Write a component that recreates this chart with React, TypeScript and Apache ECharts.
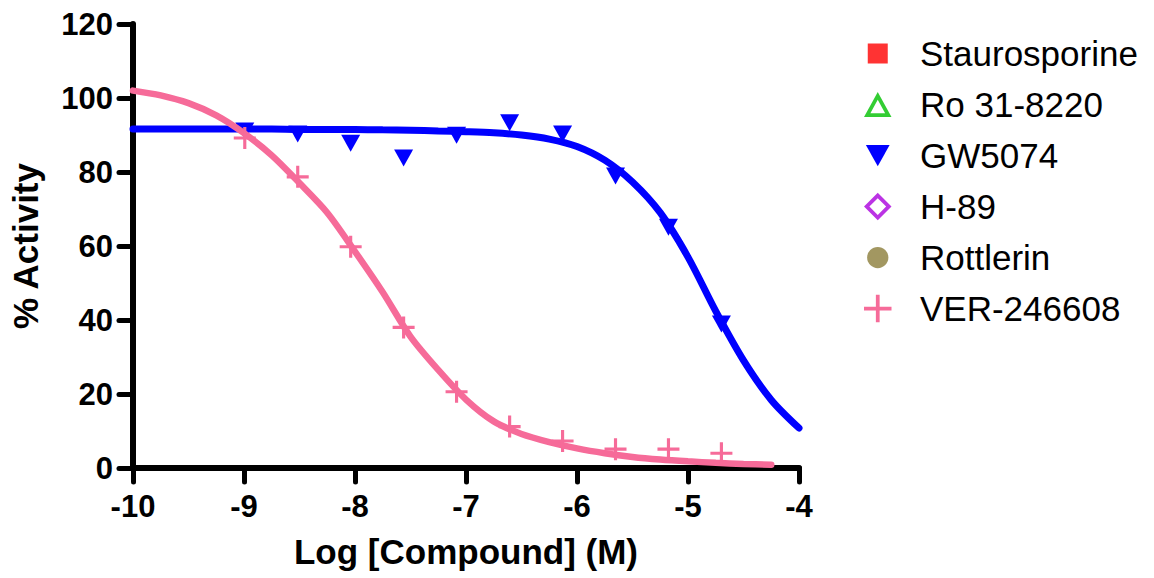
import React, { useEffect, useRef } from "react";
import * as echarts from "echarts";

// Log concentrations (M) of the 3-fold dilution series
const logConc = [-8.993, -8.516, -8.039, -7.562, -7.085, -6.607, -6.13, -5.653, -5.176, -4.699];
// Measured % activity
const gw5074 = [91.1, 90.3, 87.8, 83.8, 89.9, 93.3, 90.3, 78.9, 65.1, 38.9];
const ver246608 = [89.2, 78.7, 59.8, 38.0, 20.6, 11.2, 7.3, 5.1, 5.1, 4.0];

// Fitted curves
const gwFitX = [-10, -9.75, -9.5, -9.25, -9, -8.75, -8.5, -8.25, -8, -7.75, -7.5, -7.25, -7, -6.75, -6.5, -6.25, -6, -5.75, -5.5, -5.25, -5, -4.75, -4.5, -4.25, -4];
const gwFitY = [91.6, 91.6, 91.6, 91.6, 91.6, 91.6, 91.5, 91.5, 91.5, 91.4, 91.3, 91.1, 90.9, 90.6, 90.0, 88.9, 86.9, 83.2, 77.3, 69.0, 57.0, 42.4, 29.1, 18.4, 10.8];
const verFitX = [-10, -9.75, -9.5, -9.25, -9, -8.75, -8.5, -8.25, -8, -7.75, -7.5, -7.25, -7, -6.75, -6.5, -6.25, -6, -5.75, -5.5, -5.25, -5, -4.75, -4.5, -4.25];
const verFitY = [102, 100.7, 98.6, 95.3, 90.5, 84.5, 77, 69, 58.5, 47.5, 35.5, 26.5, 18.5, 12.6, 9.2, 7.0, 5.3, 4.0, 3.0, 2.3, 1.8, 1.4, 1.1, 0.9];

const compounds = ["Staurosporine", "Ro 31-8220", "GW5074", "H-89", "Rottlerin", "VER-246608"];
const xTicks = { min: -10, max: -4, interval: 1 };
const yTicks = { min: 0, max: 120, interval: 20 };

const PLUS = "path://M9,0H12V9H21V12H12V21H9V12H0V9H9Z";
const FONT = "'Liberation Sans', Arial, sans-serif";

// legend icons (22x22 box, shapes drawn inside with margins)
const ICON_SQUARE = "path://M0,0M22,22M3,3H19V19H3Z";
const ICON_TRI_HOLLOW = "path://M0,0M22,22M11,1L22,21H0ZM11,7.2L5.1,18H16.9Z";
const ICON_DOWN_TRI = "path://M0,0M22,22M1.5,2.5H20.5L11,19.5Z";
const ICON_DIAMOND_HOLLOW = "path://M0,0M22,22M11,0L22,11L11,22L0,11ZM11,4.3L4.3,11L11,17.7L17.7,11Z";
const ICON_CIRCLE = "path://M0,0M22,22M2.5,11A8.5,8.5,0,1,1,19.5,11A8.5,8.5,0,1,1,2.5,11Z";
const ICON_PLUS = "path://M0,0M22,22M9.5,0H12.5V9.5H22V12.5H12.5V22H9.5V12.5H0V9.5H9.5Z";

const pair = (xs: number[], ys: number[]) => xs.map((x, i) => [x, ys[i]]);

export default function App() {
  const ref = useRef<HTMLDivElement>(null);
  useEffect(() => {
    if (!ref.current) return;
    const chart = echarts.init(ref.current, undefined, { renderer: "svg" });
    const axisLabel = { color: "#000", fontWeight: "bold" as const, fontSize: 31, fontFamily: FONT };
    chart.setOption({
      animation: false,
      backgroundColor: "#fff",
      grid: { left: 133, right: 355, top: 24, bottom: 110, containLabel: false },
      xAxis: {
        type: "value",
        min: xTicks.min,
        max: xTicks.max,
        interval: xTicks.interval,
        name: "Log [Compound] (M)",
        nameLocation: "middle",
        nameGap: 66,
        nameTextStyle: { color: "#000", fontWeight: "bold", fontSize: 35, fontFamily: FONT },
        axisLine: { onZero: false, lineStyle: { color: "#000", width: 6, cap: "round" } },
        axisTick: { length: 14, lineStyle: { color: "#000", width: 5, cap: "round" } },
        axisLabel: { ...axisLabel, margin: 23 },
        splitLine: { show: false },
      },
      yAxis: {
        type: "value",
        min: yTicks.min,
        max: yTicks.max,
        interval: yTicks.interval,
        name: "% Activity",
        nameLocation: "middle",
        nameRotate: 90,
        nameGap: 90,
        nameTextStyle: { color: "#000", fontWeight: "bold", fontSize: 35, fontFamily: FONT },
        axisLine: { onZero: false, lineStyle: { color: "#000", width: 6, cap: "round" } },
        axisTick: { length: 14, lineStyle: { color: "#000", width: 5, cap: "round" } },
        axisLabel: { ...axisLabel, margin: 20 },
        splitLine: { show: false },
      },
      legend: {
        orient: "vertical",
        left: 864,
        top: 36,
        padding: 0,
        itemGap: 16,
        itemWidth: 27.5,
        itemHeight: 27.5,
        selectedMode: false,
        textStyle: { color: "#000", fontSize: 35, fontFamily: FONT, lineHeight: 35, padding: [0, 0, 0, 23.5] },
        data: [
          { name: compounds[0], icon: ICON_SQUARE, itemStyle: { color: "#ff0000", borderWidth: 0 } },
          { name: compounds[1], icon: ICON_TRI_HOLLOW, itemStyle: { color: "#00c000", borderWidth: 0 } },
          { name: compounds[2], icon: ICON_DOWN_TRI, itemStyle: { color: "#0000ff", borderWidth: 0 } },
          { name: compounds[3], icon: ICON_DIAMOND_HOLLOW, itemStyle: { color: "#aa00dd", borderWidth: 0 } },
          { name: compounds[4], icon: ICON_CIRCLE, itemStyle: { color: "#8b7d3a", borderWidth: 0 } },
          { name: compounds[5], icon: ICON_PLUS, itemStyle: { color: "#f66b99", borderWidth: 0 } },
        ],
      },
      series: [
        { name: compounds[0], type: "scatter", data: [], itemStyle: { color: "#ff0000" } },
        { name: compounds[1], type: "scatter", data: [], itemStyle: { color: "#00c000" } },
        { name: compounds[3], type: "scatter", data: [], itemStyle: { color: "#aa00dd" } },
        { name: compounds[4], type: "scatter", data: [], itemStyle: { color: "#8b7d3a" } },
        {
          name: "GW5074 fit",
          type: "line",
          data: pair(gwFitX, gwFitY),
          smooth: 0.3,
          showSymbol: false,
          lineStyle: { color: "#0000ff", width: 7, cap: "round" },
          z: 2,
        },
        {
          name: compounds[2],
          type: "scatter",
          data: pair(logConc, gw5074),
          symbol: "triangle",
          symbolRotate: 180,
          symbolSize: [19, 17],
          itemStyle: { color: "#0000ff", opacity: 1 },
          z: 3,
        },
        {
          name: "VER-246608 fit",
          type: "line",
          data: pair(verFitX, verFitY),
          smooth: 0.3,
          showSymbol: false,
          lineStyle: { color: "#f66b99", width: 6.5, cap: "round" },
          z: 4,
        },
        {
          name: compounds[5],
          type: "scatter",
          data: pair(logConc, ver246608),
          symbol: PLUS,
          symbolSize: 22,
          itemStyle: { color: "#f66b99", opacity: 1 },
          z: 5,
        },
      ],
    });
    return () => chart.dispose();
  }, []);
  return (
    <div
      ref={ref}
      style={{ position: "fixed", left: 0, top: 0, width: 1154, height: 578, background: "#fff" }}
    />
  );
}
